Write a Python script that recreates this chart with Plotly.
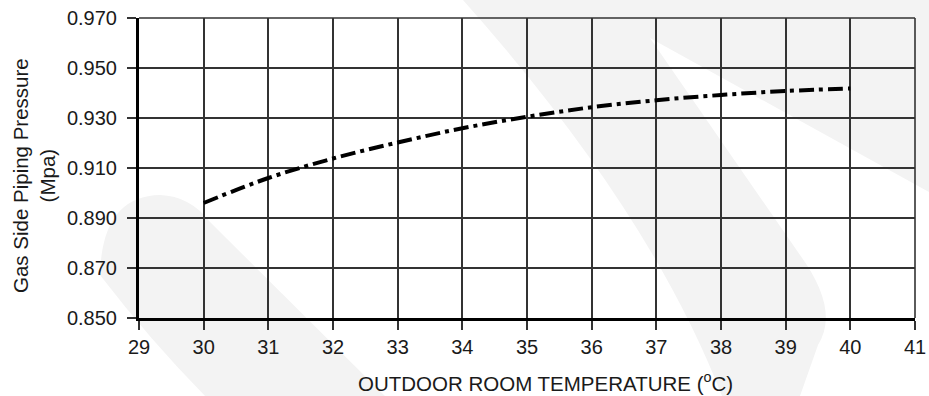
import plotly.graph_objects as go

# Outdoor temperature (°C) vs gas side piping pressure (MPa)
temp = [30, 31, 32, 33, 34, 35, 36, 37, 38, 39, 40]
pressure = [0.896, 0.906, 0.9138, 0.9202, 0.9259, 0.9305, 0.9343, 0.9371, 0.9392, 0.9408, 0.9418]

x_ticks = list(range(29, 42))
y_ticks = [0.850, 0.870, 0.890, 0.910, 0.930, 0.950, 0.970]

W, H = 929, 396
L, R, T, B = 139, 14, 18, 78
FONT = "Liberation Sans, Arial, Helvetica, sans-serif"
GRID = "#333333"


def px(x, y):
    """figure pixel -> paper coords (for the faint background watermark)"""
    return (x - L) / (W - L - R), (H - B - y) / (H - T - B)


def path(cmds):
    out = []
    for c in cmds:
        if isinstance(c, str):
            out.append(c)
        else:
            a, b = px(*c)
            out.append(f"{a:.4f},{b:.4f}")
    return " ".join(out)


fig = go.Figure()
fig.add_trace(go.Scatter(
    x=temp, y=pressure, mode="lines",
    line=dict(color="black", width=4, dash="15px,5px,4px,5px", shape="spline"),
    showlegend=False, hoverinfo="x+y",
))

# faint watermark behind the grid
WM = "#f3f3f3"
watermark = [
    # left stroke with rounded top
    ["M", (100, 275), "Q", (102, 196), (160, 195), "Q", (190, 196), (210, 222),
     "L", (385, 396), "L", (205, 396), "Q", (150, 340), (100, 275), "Z"],
    # middle + right strokes
    ["M", (463, 0), "L", (929, 0), "L", (929, 192), "L", (650, 38),
     "L", (800, 255), "Q", (840, 310), (818, 345), "L", (800, 396),
     "L", (722, 396), "Q", (650, 210), (463, 0), "Z"],
]
for p in watermark:
    fig.add_shape(type="path", path=path(p), xref="paper", yref="paper",
                  fillcolor=WM, line=dict(width=0), layer="below")

fig.update_layout(
    width=W, height=H,
    margin=dict(l=L, r=R, t=T, b=B, autoexpand=False),
    paper_bgcolor="white", plot_bgcolor="rgba(0,0,0,0)",
    font=dict(family=FONT, color="#1a1a1a", size=20),
)
fig.update_xaxes(
    range=[29, 41], tickvals=x_ticks, ticktext=[str(v) for v in x_ticks],
    showgrid=True, gridcolor=GRID, gridwidth=1.6,
    showline=True, linecolor="black", linewidth=3,
    ticks="outside", ticklen=9, tickcolor=GRID, tickwidth=1.6,
    zeroline=False, tickfont=dict(size=20), automargin=False,
)
fig.update_yaxes(
    range=[0.850, 0.970], tickvals=y_ticks, ticktext=[f"{v:.3f}" for v in y_ticks],
    showgrid=True, gridcolor=GRID, gridwidth=1.6,
    showline=True, linecolor="black", linewidth=3,
    ticks="outside", ticklen=9, tickcolor=GRID, tickwidth=1.6,
    ticklabelstandoff=6,
    zeroline=False, tickfont=dict(size=20), automargin=False,
)
# right and top borders drawn like grid lines
fig.add_shape(type="line", xref="paper", yref="paper", x0=1, x1=1, y0=0, y1=1,
              line=dict(color=GRID, width=1.6))
fig.add_shape(type="line", xref="paper", yref="paper", x0=0, x1=1, y0=1, y1=1,
              line=dict(color=GRID, width=1.6))

# axis titles
fig.add_annotation(
    text="OUTDOOR ROOM TEMPERATURE (<sup>o</sup>C)",
    xref="paper", yref="paper", x=px(545, 0)[0], y=px(0, 382)[1],
    showarrow=False, xanchor="center", yanchor="middle",
    font=dict(size=20.5),
)
fig.add_annotation(
    text="Gas Side Piping Pressure<br>(Mpa)",
    xref="paper", yref="paper", x=px(34, 0)[0], y=px(0, 176)[1],
    showarrow=False, textangle=-90, xanchor="center", yanchor="middle",
    font=dict(size=20.5),
)

fig.write_html("out.html", config={"displayModeBar": False},
               post_script="document.body.style.margin='0';")
